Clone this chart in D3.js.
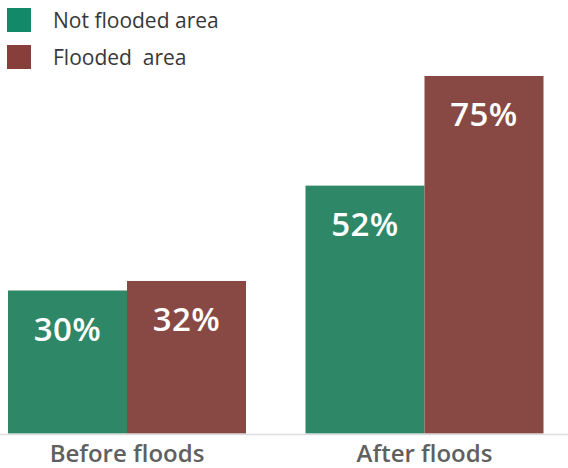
<!DOCTYPE html>
<html>
<head>
<meta charset="utf-8">
<script src="https://cdn.jsdelivr.net/npm/d3@7"></script>
<style>
  body { margin: 0; background: #fff; }
  svg { display: block; font-family: "Open Sans", Lato, sans-serif; }
</style>
</head>
<body>
<div id="chart"></div>
<script>
// Data
var periods = ["Before floods", "After floods"];
var seriesNames = ["Not flooded area", "Flooded  area"];
var notFlooded = [30, 52];
var flooded = [32, 75];

// Layout
var w = 568, h = 468
  , baseline = 433.5
  , barColors = ["#2e8767", "#884945"]
  , legendColors = ["#128a69", "#883f3c"];

var svg = d3.select("#chart").append("svg")
  .attr("width", w)
  .attr("height", h);

var x0 = d3.scaleBand().domain(periods).range([8, 543.5]).paddingInner(0.2).paddingOuter(0);
var x1 = d3.scaleBand().domain(seriesNames).range([0, x0.bandwidth()]);
var y = d3.scaleLinear().domain([0, 75]).range([baseline, 76]);

var rows = periods.map(function(p, i) {
  return { period: p, values: [notFlooded[i], flooded[i]] };
});

var groups = svg.selectAll("g.group")
  .data(rows)
  .enter().append("g")
  .attr("class", "group")
  .attr("transform", function(d) { return "translate(" + x0(d.period) + ",0)"; });

groups.selectAll("rect")
  .data(function(d) { return d.values.map(function(v, j) { return { name: seriesNames[j], value: v, j: j }; }); })
  .enter().append("rect")
  .attr("x", function(d) { return x1(d.name); })
  .attr("y", function(d) { return y(d.value); })
  .attr("width", x1.bandwidth())
  .attr("height", function(d) { return baseline - y(d.value); })
  .attr("fill", function(d) { return barColors[d.j]; });

groups.selectAll("text.value")
  .data(function(d) { return d.values.map(function(v, j) { return { name: seriesNames[j], value: v }; }); })
  .enter().append("text")
  .attr("class", "value")
  .attr("x", function(d) { return x1(d.name) + x1.bandwidth() / 2; })
  .attr("y", function(d) { return y(d.value) + 50; })
  .attr("text-anchor", "middle")
  .attr("fill", "#fff")
  .style("font-size", "33px")
  .style("font-weight", "600")
  .style("letter-spacing", "0.5px")
  .text(function(d) { return d.value + "%"; });

// Baseline axis
svg.append("line")
  .attr("x1", 0).attr("x2", w)
  .attr("y1", baseline + 1).attr("y2", baseline + 1)
  .attr("stroke", "#dddddd")
  .attr("stroke-width", 1.5);

svg.selectAll("text.period")
  .data(periods)
  .enter().append("text")
  .attr("class", "period")
  .attr("x", function(d) { return x0(d) + x0.bandwidth() / 2; })
  .attr("y", 462)
  .attr("text-anchor", "middle")
  .attr("fill", "#606060")
  .style("font-size", "24px")
  .style("font-weight", "600")
  .text(function(d) { return d; });

// Legend
var legend = svg.selectAll("g.legend")
  .data(seriesNames)
  .enter().append("g")
  .attr("class", "legend")
  .attr("transform", function(d, i) { return "translate(7," + (8 + i * 37) + ")"; });

legend.append("rect")
  .attr("width", 24).attr("height", 24)
  .attr("fill", function(d, i) { return legendColors[i]; });

legend.append("text")
  .attr("x", 46)
  .attr("y", 20)
  .attr("fill", "#383838")
  .style("font-size", "21px")
  .style("white-space", "pre")
  .attr("xml:space", "preserve")
  .text(function(d) { return d; });
</script>
</body>
</html>
